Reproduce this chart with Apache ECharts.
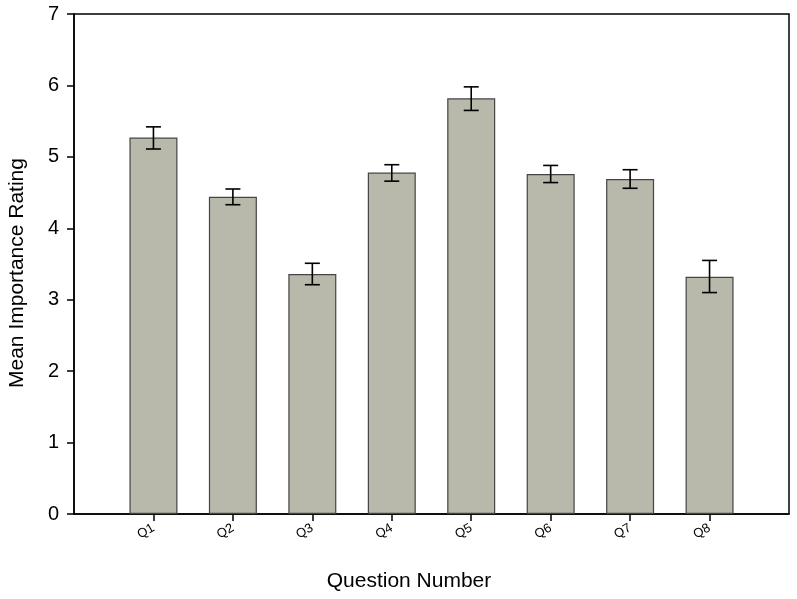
<!DOCTYPE html>
<html>
<head>
<meta charset="utf-8">
<script src="https://cdn.jsdelivr.net/npm/echarts@6/dist/echarts.min.js"></script>
<style>
  html, body { margin: 0; padding: 0; background: #fff; }
  #chart { width: 797px; height: 599px; }
</style>
</head>
<body>
<div id="chart"></div>
<script>
// padded with blanks so the bars sit at 1..8 of a 0..9 axis
var categories = ['', 'Q1', 'Q2', 'Q3', 'Q4', 'Q5', 'Q6', 'Q7', 'Q8', ''];
var means = [null, 5.27, 4.44, 3.36, 4.78, 5.82, 4.76, 4.69, 3.32, null];
var errLow = [null, 5.11, 4.33, 3.21, 4.66, 5.65, 4.64, 4.56, 3.10, null];
var errHigh = [null, 5.42, 4.55, 3.51, 4.89, 5.98, 4.88, 4.82, 3.55, null];
var yTicks = [0, 1, 2, 3, 4, 5, 6, 7];

var font = 'Liberation Sans, Arial, sans-serif';

var errData = [];
for (var i = 0; i < categories.length; i++) {
    if (means[i] != null) errData.push([i, errLow[i], errHigh[i]]);
}

var chart = echarts.init(document.getElementById('chart'));
chart.setOption({
    animation: false,
    grid: {
        left: 74, right: 8, top: 14, bottom: 85,
        show: true, borderColor: '#000', borderWidth: 1.5, backgroundColor: '#fff'
    },
    xAxis: {
        type: 'category',
        data: categories,
        boundaryGap: false,
        axisLine: { lineStyle: { color: '#000', width: 1.5 } },
        axisTick: {
            length: 7, lineStyle: { color: '#000', width: 1.5 },
            interval: function (idx, val) { return val !== ''; }
        },
        axisLabel: {
            rotate: 30, margin: 13, fontSize: 13, fontFamily: font, color: '#000',
            interval: function (idx, val) { return val !== ''; }
        },
        splitLine: { show: false }
    },
    yAxis: {
        type: 'value',
        min: yTicks[0], max: yTicks[yTicks.length - 1], interval: 1,
        axisLine: { show: true, lineStyle: { color: '#000', width: 1.5 } },
        axisTick: { show: true, length: 7, lineStyle: { color: '#000', width: 1.5 } },
        axisLabel: { margin: 15, fontSize: 20, fontFamily: font, color: '#000' },
        splitLine: { show: false }
    },
    graphic: [
        {
            type: 'text', x: 409, y: 581,
            style: { text: 'Question Number', font: '21px ' + font, fill: '#000', align: 'center', verticalAlign: 'middle' }
        },
        {
            type: 'text', x: 17, y: 273, rotation: Math.PI / 2,
            style: { text: 'Mean Importance Rating', font: '21px ' + font, fill: '#000', align: 'center', verticalAlign: 'middle' }
        }
    ],
    series: [
        {
            type: 'bar',
            data: means,
            barWidth: 48,
            itemStyle: { color: '#b8b8ab', borderColor: '#444', borderWidth: 1.2 }
        },
        {
            type: 'custom',
            data: errData,
            z: 10,
            renderItem: function (params, api) {
                var lo = api.coord([api.value(0), api.value(1)]);
                var hi = api.coord([api.value(0), api.value(2)]);
                var hw = 7.5;
                var st = { stroke: '#000', lineWidth: 1.6 };
                return {
                    type: 'group',
                    children: [
                        { type: 'line', shape: { x1: lo[0], y1: lo[1], x2: hi[0], y2: hi[1] }, style: st },
                        { type: 'line', shape: { x1: lo[0] - hw, y1: lo[1], x2: lo[0] + hw, y2: lo[1] }, style: st },
                        { type: 'line', shape: { x1: hi[0] - hw, y1: hi[1], x2: hi[0] + hw, y2: hi[1] }, style: st }
                    ]
                };
            }
        }
    ]
});
</script>
</body>
</html>
